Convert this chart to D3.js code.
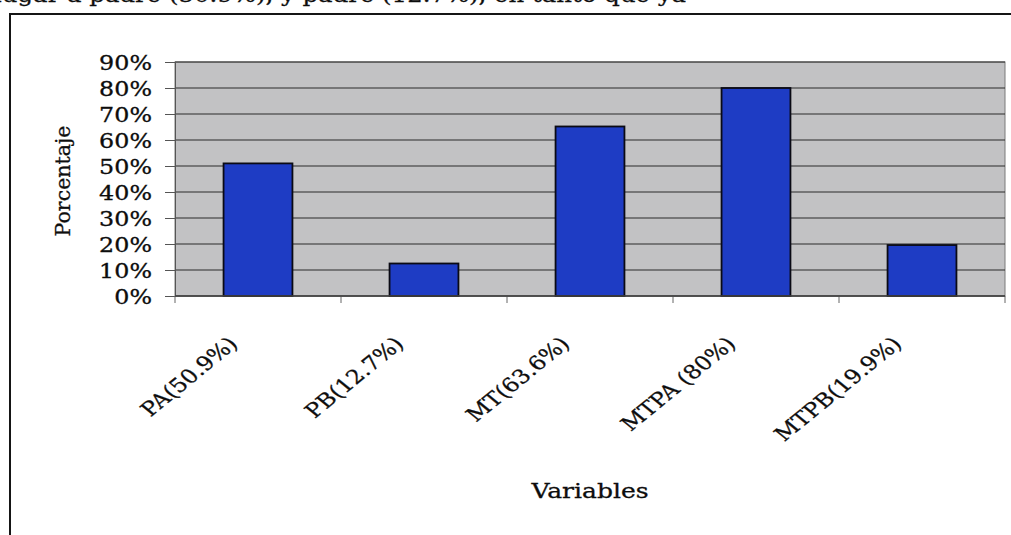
<!DOCTYPE html>
<html>
<head>
<meta charset="utf-8">
<script src="https://cdn.jsdelivr.net/npm/d3@7"></script>
<style>
  body { margin: 0; background: #fff; }
  svg text { font-family: "DejaVu Serif", serif; fill: #0d0d0d; stroke: #0d0d0d; stroke-width: 0.3px; }
</style>
</head>
<body>
<script>
// data
var categories = ["PA(50.9%)", "PB(12.7%)", "MT(63.6%)", "MTPA (80%)", "MTPB(19.9%)"];
var values = [0.51, 0.125, 0.652, 0.80, 0.196];
var yTicks = [0, 0.1, 0.2, 0.3, 0.4, 0.5, 0.6, 0.7, 0.8, 0.9];

var W = 1011, H = 535,
    sx = 1.22; // the source image is stretched sideways

var plot = {left: 175, right: 1005, top: 62, bottom: 296};

var svg = d3.select("body").append("svg")
    .attr("width", W)
    .attr("height", H);

// cut-off line of body text above the chart box
svg.append("text")
    .attr("transform", "translate(-6,2) scale(" + sx + ",1)")
    .style("font-size", "20px")
    .text("lugar a padre (50.9%), y padre (12.7%), en tanto que ya");

// chart box
svg.append("rect")
    .attr("x", 10).attr("y", 14)
    .attr("width", 1100).attr("height", 600)
    .attr("fill", "none")
    .attr("stroke", "#151515")
    .attr("stroke-width", 2);

var x = d3.scaleBand()
    .domain(categories)
    .range([plot.left, plot.right]);

var y = d3.scaleLinear()
    .domain([0, 0.9])
    .range([plot.bottom, plot.top]);

// plot background
svg.append("rect")
    .attr("x", plot.left).attr("y", plot.top)
    .attr("width", plot.right - plot.left)
    .attr("height", plot.bottom - plot.top)
    .attr("fill", "#c2c2c4")
    .attr("stroke", "#7a7a7a");

// gridlines
svg.append("g")
  .selectAll("line")
    .data(yTicks)
  .enter().append("line")
    .attr("x1", plot.left).attr("x2", plot.right)
    .attr("y1", function(d) { return y(d); })
    .attr("y2", function(d) { return y(d); })
    .attr("stroke", "#2a2a2a")
    .attr("stroke-width", 1.2);

// bars
var bw = x.bandwidth() * 0.415;
svg.append("g")
  .selectAll("rect")
    .data(values)
  .enter().append("rect")
    .attr("x", function(d, i) { return x(categories[i]) + x.bandwidth() / 2 - bw / 2; })
    .attr("y", function(d) { return y(d); })
    .attr("width", bw)
    .attr("height", function(d) { return y(0) - y(d); })
    .attr("fill", "#1e3cc4")
    .attr("stroke", "#0a0a14")
    .attr("stroke-width", 1.8);

// y axis
var yAxis = svg.append("g")
    .attr("transform", "translate(" + plot.left + ",0)")
    .call(d3.axisLeft(y).tickValues(yTicks).tickSize(10).tickSizeOuter(0).tickFormat(d3.format(".0%")));
yAxis.select(".domain").attr("stroke", "#555");
yAxis.selectAll(".tick line").attr("stroke", "#555");
yAxis.selectAll(".tick text")
    .attr("x", null).attr("dy", null)
    .attr("text-anchor", "end")
    .attr("transform", "translate(-23,7) scale(" + sx + ",1)")
    .style("font-size", "19.5px");

// x axis: ticks sit between the categories
var bounds = categories.map(function(c) { return x(c); }).concat([plot.right]);
svg.append("g")
  .selectAll("line")
    .data(bounds)
  .enter().append("line")
    .attr("x1", function(d) { return d; }).attr("x2", function(d) { return d; })
    .attr("y1", plot.bottom).attr("y2", plot.bottom + 7)
    .attr("stroke", "#666");
svg.append("line")
    .attr("x1", plot.left).attr("x2", plot.right)
    .attr("y1", plot.bottom).attr("y2", plot.bottom)
    .attr("stroke", "#444").attr("stroke-width", 1.5);

// slanted category labels
svg.append("g")
  .selectAll("text")
    .data(categories)
  .enter().append("text")
    .attr("text-anchor", "end")
    .attr("transform", function(d) {
      var cx = x(d) + x.bandwidth() / 2 - 19;
      return "translate(" + cx + ",345) scale(" + sx + ",1) rotate(-45)";
    })
    .style("font-size", "19.5px")
    .text(function(d) { return d; });

// axis titles
svg.append("text")
    .attr("text-anchor", "middle")
    .attr("transform", "translate(" + (plot.left + plot.right) / 2 + ",498) scale(" + sx + ",1)")
    .style("font-size", "20.5px")
    .text("Variables");

svg.append("text")
    .attr("text-anchor", "middle")
    .attr("transform", "translate(70,181) rotate(-90)")
    .style("font-size", "20.5px")
    .text("Porcentaje");
</script>
</body>
</html>
